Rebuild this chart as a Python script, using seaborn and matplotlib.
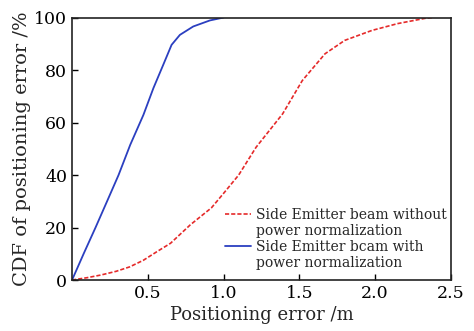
import numpy as np
import pandas as pd
import matplotlib
matplotlib.use("Agg")
import matplotlib.pyplot as plt
from matplotlib.lines import Line2D
import seaborn as sns

# Data
red_x = [0, 0.1, 0.19, 0.29, 0.38, 0.47, 0.56, 0.65, 0.78, 0.92, 1.0, 1.1, 1.215,
         1.39, 1.52, 1.67, 1.8, 1.98, 2.15, 2.33, 2.38]
red_y = [0, 0.9, 1.9, 3.3, 5, 7.5, 10.8, 14, 21, 27.5, 33, 40, 50.6,
         63.3, 76, 86.2, 91.3, 95.1, 97.7, 99.7, 100]
blue_x = [0, 0.078, 0.155, 0.235, 0.307, 0.384, 0.471, 0.537, 0.602, 0.657,
          0.712, 0.8, 0.91, 1.0]
blue_y = [0, 10.2, 20, 30.5, 40, 51.5, 62.9, 73.1, 82, 89.6, 93.4, 96.6, 98.9, 100]
label_red = "Side Emitter beam without"
label_red2 = "power normalization"
label_blue = "Side Emitter bcam with"
label_blue2 = "power normalization"
x_ticks = [0.5, 1.0, 1.5, 2.0, 2.5]
x_tick_labels = ["0.5", "1.0", "1.5", "2.0", "2.5"]
y_ticks = [0, 20, 40, 60, 80, 100]

sns.set_style("ticks")
plt.rcParams['font.family'] = ['DejaVu Serif']

fig = plt.figure(figsize=(4.74, 3.31), dpi=100)
ax = fig.add_axes([0.152, 0.154, 0.799, 0.793])

red_color = "#e52a2a"
blue_color = "#2b3fc0"
red_ls = (0, (2.5, 1.2))
df_red = pd.DataFrame({"x": red_x, "y": red_y})
df_blue = pd.DataFrame({"x": blue_x, "y": blue_y})
sns.lineplot(data=df_red, x="x", y="y", ax=ax, color=red_color, lw=1.2,
             linestyle=red_ls, estimator=None, sort=False)
sns.lineplot(data=df_blue, x="x", y="y", ax=ax, color=blue_color, lw=1.3,
             estimator=None, sort=False)

ax.set_xlim(0, 2.5)
ax.set_ylim(0, 100)
ax.set_xticks(x_ticks)
ax.set_xticklabels(x_tick_labels)
ax.set_yticks(y_ticks)
ax.tick_params(direction="in", length=4, width=1, labelsize=12.5, colors="black",
               top=False, right=False)
for s in ax.spines.values():
    s.set_visible(True)
    s.set_linewidth(1.2)
    s.set_color("#222222")
ax.set_xlabel("Positioning error /m", fontsize=13, labelpad=3)
ax.set_ylabel("CDF of positioning error /%", fontsize=14, labelpad=2)

blank = Line2D([], [], color="none")
handles = [Line2D([], [], color=red_color, lw=1.2, linestyle=red_ls), blank,
           Line2D([], [], color=blue_color, lw=1.3), blank]
labels = [label_red, label_red2, label_blue, label_blue2]
ax.legend(handles, labels, loc="upper left", bbox_to_anchor=(0.405, 0.275),
          frameon=False, fontsize=10, handlelength=1.87, handletextpad=0.3,
          labelspacing=0.15, borderaxespad=0, borderpad=0)

fig.savefig("out.png", dpi=100)
